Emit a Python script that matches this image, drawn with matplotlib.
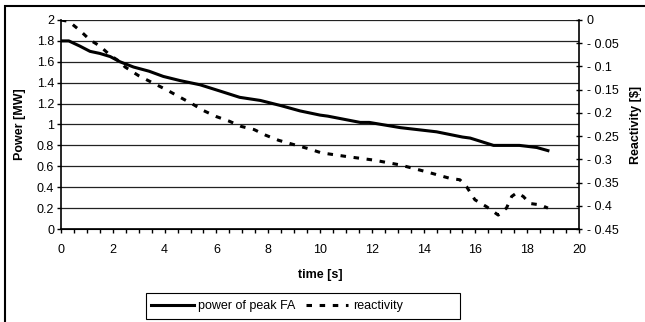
import matplotlib
matplotlib.use("Agg")
import matplotlib.pyplot as plt
from matplotlib.patches import Rectangle
from matplotlib.ticker import MultipleLocator, FuncFormatter

plt.rcParams['font.family'] = ['Liberation Sans', 'DejaVu Sans']

# power of peak FA [MW] vs time [s]
time_power = [0, 0.3, 0.73, 1.12, 1.5, 1.9, 2.28, 2.8, 3.4, 3.95, 4.6, 5.37, 6.14, 6.9,
              7.7, 8.5, 9.23, 10.0, 10.3, 11.55, 11.9, 13.1, 14.5, 15.5, 15.8, 16.7,
              17.7, 18.37, 18.8]
power = [1.8, 1.8, 1.75, 1.70, 1.68, 1.65, 1.60, 1.55, 1.51, 1.46, 1.42, 1.38, 1.32, 1.26,
         1.23, 1.18, 1.13, 1.09, 1.08, 1.02, 1.02, 0.97, 0.93, 0.88, 0.87, 0.80,
         0.80, 0.78, 0.75]

# reactivity [$] vs time [s]
time_react = [0, 0.3, 0.73, 1.12, 1.5, 1.9, 2.28, 2.47, 3.0, 3.6, 4.1, 4.55, 5.05, 5.5,
              6.0, 6.5, 6.95, 7.46, 7.9, 8.4, 8.97, 9.55, 10.05, 11.03, 12.06, 13.09,
              14.12, 15.02, 15.4, 15.66, 15.98, 16.43, 16.88, 17.2, 17.4, 17.6, 17.85,
              18.1, 18.5, 18.8]
react = [0, -0.003, -0.0225, -0.043, -0.056, -0.076, -0.09, -0.101, -0.12, -0.137,
         -0.151, -0.165, -0.18, -0.195, -0.208, -0.218, -0.229, -0.236, -0.248, -0.259,
         -0.268, -0.277, -0.286, -0.294, -0.3015, -0.312, -0.327, -0.341, -0.344,
         -0.359, -0.387, -0.402, -0.42, -0.405, -0.38, -0.372, -0.38, -0.395, -0.398,
         -0.405]


def num_label(v, pos):
    if abs(v) < 1e-9:
        return "0"
    s = f"{abs(v):.2f}".rstrip('0').rstrip('.')
    return "- " + s if v < 0 else s


fig = plt.figure(figsize=(6.45, 3.22), dpi=100)
ax = fig.add_axes([61 / 645, 1 - 229 / 322, 518 / 645, 209 / 322])
ax2 = ax.twinx()

l1, = ax.plot(time_power, power, color='black', lw=2.2, label='power of peak FA')
l2, = ax2.plot(time_react, react, color='black', lw=2.2, ls=(0, (1.8, 2.5)), label='reactivity')

ax.set_xlim(0, 20)
ax.set_ylim(0, 2)
ax2.set_ylim(-0.45, 0)

ax.xaxis.set_major_locator(MultipleLocator(2))
ax.xaxis.set_minor_locator(MultipleLocator(0.5))
ax.yaxis.set_major_locator(MultipleLocator(0.2))
ax2.yaxis.set_major_locator(MultipleLocator(0.05))

fmt = FuncFormatter(num_label)
ax.yaxis.set_major_formatter(fmt)
ax2.yaxis.set_major_formatter(fmt)
ax.xaxis.set_major_formatter(fmt)

ax.grid(axis='y', color='#222222', lw=0.9)
ax.set_axisbelow(True)
ax.spines['top'].set_visible(False)
ax2.spines['top'].set_visible(False)
ax.spines['right'].set_visible(False)
ax2.spines['left'].set_visible(False)
for sp in [ax.spines['left'], ax.spines['bottom'], ax2.spines['right']]:
    sp.set_linewidth(1.2)

ax.tick_params(axis='x', which='both', direction='out', length=3, width=1, labelsize=9, pad=8)
ax.tick_params(axis='y', direction='out', length=3, width=1, labelsize=9, pad=2)
ax2.tick_params(axis='y', direction='inout', length=5, width=1, labelsize=9, pad=3)

ax.set_xlabel('time [s]', fontsize=9, fontweight='bold', labelpad=9)
ax.set_ylabel('Power [MW]', fontsize=9, fontweight='bold', labelpad=8)
ax2.set_ylabel('Reactivity [$]', fontsize=9, fontweight='bold', labelpad=8)

# legend box drawn separately (Excel leaves empty room on the right)
fig.patches.append(Rectangle((146 / 645, 1 - 319 / 322), 314 / 645, 26 / 322,
                             transform=fig.transFigure, fill=False, edgecolor='black', lw=0.8))
leg = fig.legend([l1, l2], ['power of peak FA', 'reactivity'], loc='center left',
                 bbox_to_anchor=(146 / 645, 1 - 306 / 322), ncol=2, fontsize=9,
                 frameon=False, handlelength=3.4, columnspacing=0.8,
                 handletextpad=0.4, borderpad=0.4, borderaxespad=0)

fig.patches.append(Rectangle((5 / 645, -0.1), 1.2, 1 - 6 / 322 + 0.1, transform=fig.transFigure,
                             fill=False, edgecolor='black', lw=1.5, clip_on=False))

fig.savefig('out.png', dpi=100)
